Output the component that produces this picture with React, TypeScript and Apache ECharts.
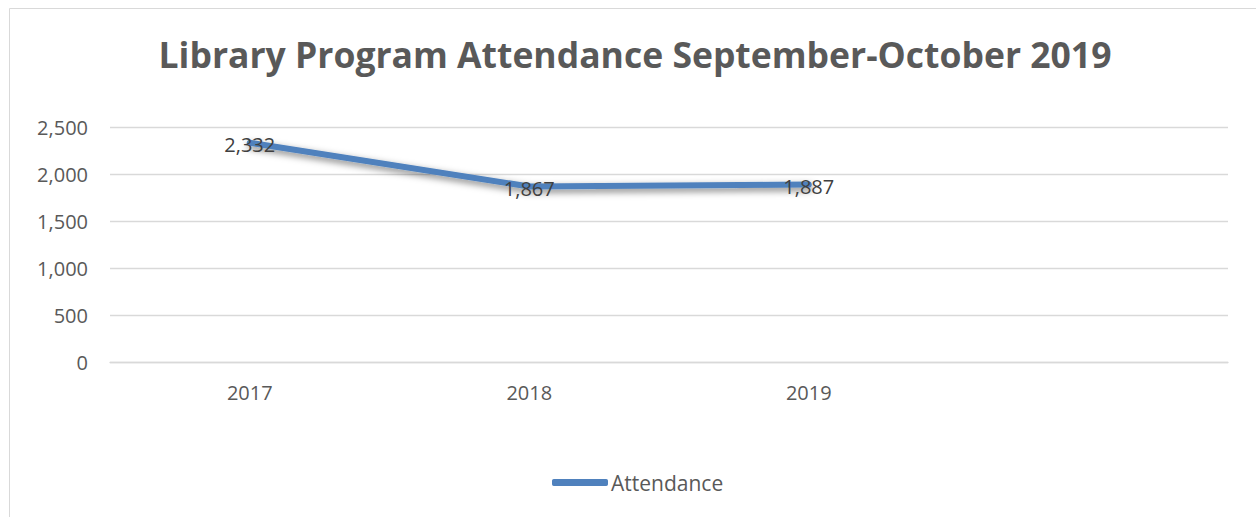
import React, { useEffect, useRef } from "react";
import * as echarts from "echarts";

const categories = ["2017", "2018", "2019", ""];
const attendance = [2332, 1867, 1887];
const yTicks = { min: 0, max: 2500, interval: 500 };
const titleText = "Library Program Attendance September-October 2019";
const seriesName = "Attendance";

export default function App() {
  const ref = useRef<HTMLDivElement>(null);
  useEffect(() => {
    document.body.style.margin = "0";
    const chart = echarts.init(ref.current!, null, { renderer: "svg" });
    chart.setOption({
      animation: false,
      backgroundColor: "#ffffff",
      graphic: [
        {
          type: "rect",
          shape: { x: 9.5, y: 8.5, width: 1300, height: 600 },
          style: { fill: "none", stroke: "#d9d9d9", lineWidth: 1 },
          silent: true,
          z: -1,
        },
      ],
      title: {
        text: titleText,
        left: 630,
        top: 31,
        textAlign: "center",
        textStyle: {
          fontFamily: "Open Sans",
          fontWeight: "bold",
          fontSize: 35.5,
          color: "#595959",
        },
      },
      legend: {
        data: [{ name: seriesName, icon: "roundRect", itemStyle: { color: "#4f81bd", opacity: 1 } }],
        left: 547,
        top: 467,
        itemWidth: 56,
        itemHeight: 7,
        itemGap: 4,
        textStyle: { fontFamily: "Open Sans", fontSize: 21, color: "#595959", padding: [0, 0, 0, -2] },
      },
      grid: { left: 110, right: 28, top: 127, bottom: 155, containLabel: false },
      xAxis: {
        type: "category",
        data: categories,
        boundaryGap: true,
        axisLine: { show: true, lineStyle: { color: "#d9d9d9", width: 1.3 } },
        axisTick: { show: false },
        axisLabel: { fontFamily: "Open Sans", fontSize: 20, color: "#595959", margin: 20 },
      },
      yAxis: {
        type: "value",
        min: yTicks.min,
        max: yTicks.max,
        interval: yTicks.interval,
        axisLine: { show: false },
        axisTick: { show: false },
        splitLine: { lineStyle: { color: "#d9d9d9", width: 1.3 } },
        axisLabel: {
          fontFamily: "Open Sans",
          fontSize: 20,
          color: "#595959",
          margin: 22,
          formatter: (v: number) => v.toLocaleString("en-US"),
        },
      },
      series: [
        {
          name: seriesName,
          type: "line",
          data: attendance,
          symbol: "circle",
          symbolSize: 1,
          showSymbol: true,
          lineStyle: {
            color: "#4f81bd",
            width: 6,
            cap: "round",
            join: "round",
            shadowColor: "rgba(0,0,0,0.5)",
            shadowBlur: 7,
            shadowOffsetY: 3,
            shadowOffsetX: 1,
          },
          itemStyle: { color: "#4f81bd" },
          label: {
            show: true,
            position: "inside",
            offset: [0, 2],
            fontFamily: "Open Sans",
            fontSize: 20,
            color: "#404040",
            formatter: (p: any) => Number(p.value).toLocaleString("en-US"),
          },
          z: 3,
        },
      ],
    });
    return () => chart.dispose();
  }, []);
  return <div ref={ref} style={{ width: 1256, height: 517 }} />;
}
